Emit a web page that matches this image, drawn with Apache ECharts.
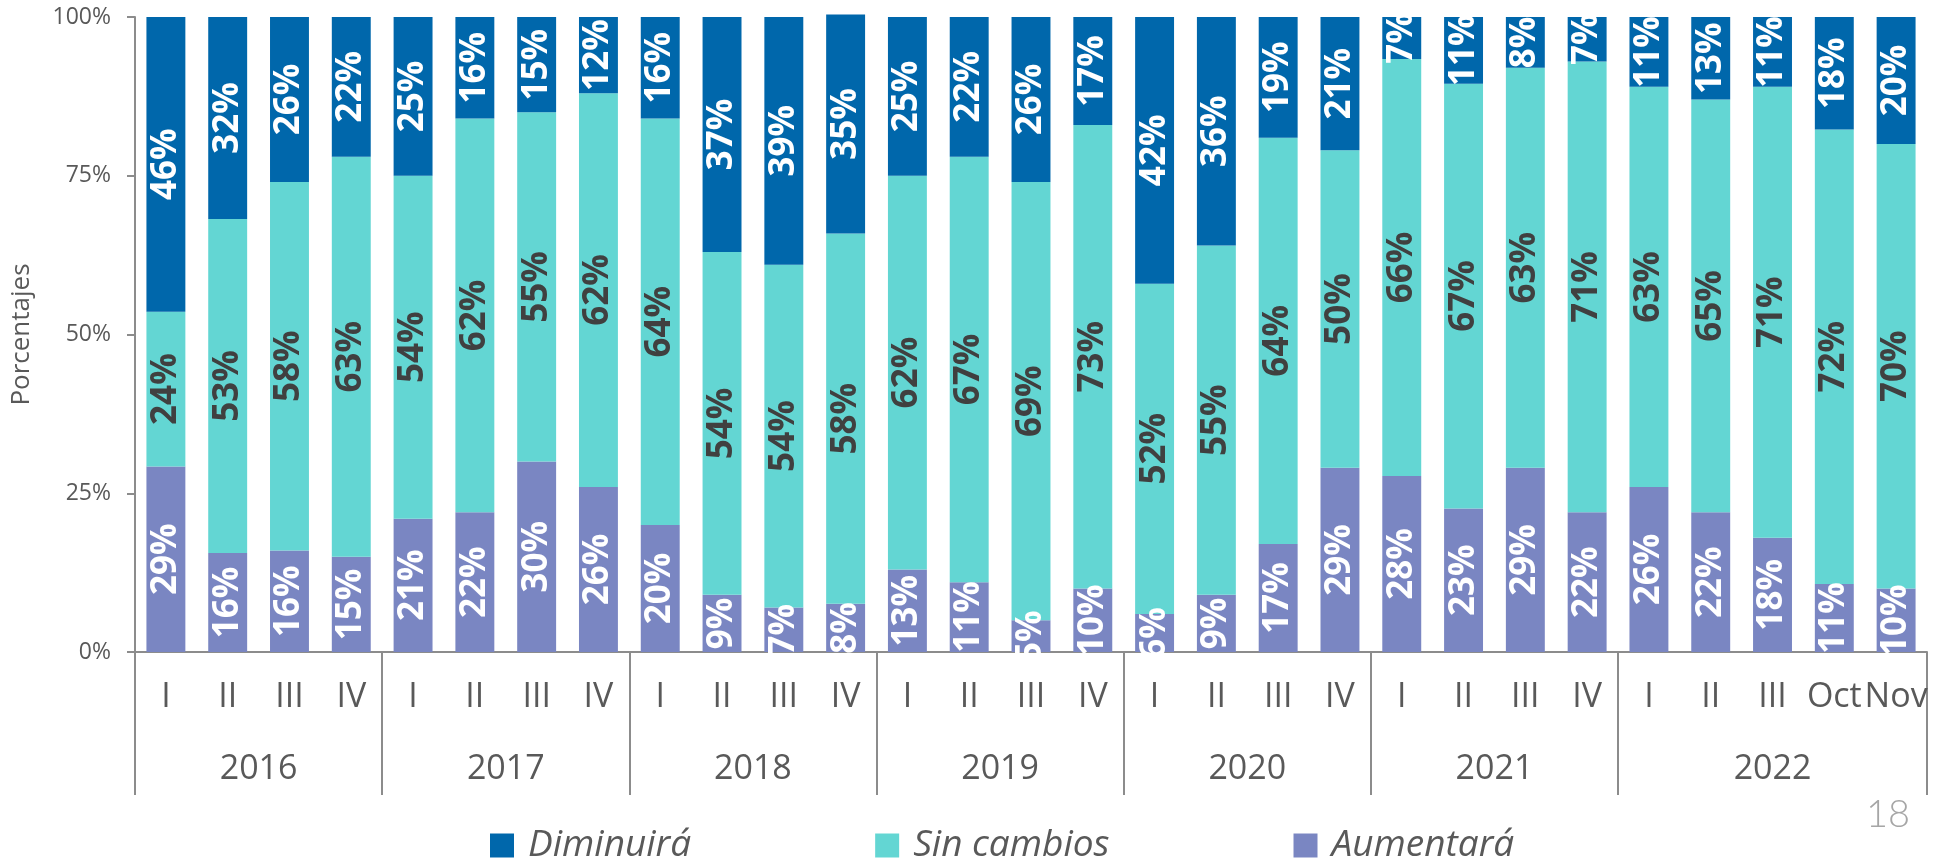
<!DOCTYPE html>
<html><head><meta charset="utf-8">
<script src="https://cdn.jsdelivr.net/npm/echarts@6/dist/echarts.min.js"></script>
<style>html,body{margin:0;padding:0;background:#fff}#c{width:1939px;height:862px}</style>
</head><body><div id="c"></div><script>
const quarters = ['I','II','III','IV','I','II','III','IV','I','II','III','IV','I','II','III','IV','I','II','III','IV','I','II','III','IV','I','II','III','Oct','Nov'];
const years = ['2016','2017','2018','2019','2020','2021','2022'];
const yearSizes = [4,4,4,4,4,4,5];
const aumentara  = [29.2,15.6,16,15, 21,22,30,26, 20,9,7,7.6, 13,11,5,10, 6,9,17,29, 27.7,22.6,29,22, 26,22,18,10.7,10];
const sinCambios = [24.4,52.6,58,63, 54,62,55,62, 64,54,54,58.3, 62,67,69,73, 52,55,64,50, 65.7,66.9,63,71, 63,65,71,71.6,70];
const diminuira  = [46.4,31.8,26,22, 25,16,15,12, 16,37,39,34.5, 25,22,26,17, 42,36,19,21, 6.6,10.5,8,7, 11,13,11,17.7,20];
const seriesNames = ['Diminuirá','Sin cambios','Aumentará'];
const yMin = 0, yMax = 100, yStep = 25;

// year boundaries and centres derived from group sizes
const boundaries = [];
const centres = {};
let acc = 0;
yearSizes.forEach((n, i) => { boundaries.push(acc); centres[String(acc + n / 2)] = years[i]; acc += n; });
const total = acc;

const FONT = "'Open Sans', 'Noto Sans', sans-serif";
const AX = '#8c8c8c';
const TXT = '#595959';

const chart = echarts.init(document.getElementById('c'), null, {renderer: 'canvas'});
function lbl(color) {
  return {show: true, position: 'inside', rotate: 90, color: color, fontFamily: FONT, fontWeight: 'bold', fontSize: 35,
    formatter: p => Math.round(p.value) + '%'};
}
chart.setOption({
  animation: false,
  backgroundColor: '#ffffff',
  grid: {left: 135, right: 12, top: 17, bottom: 210, containLabel: false},
  legend: {
    data: seriesNames, left: 485, top: 822, itemWidth: 24, itemHeight: 24, itemGap: 184, icon: 'rect',
    textStyle: {fontFamily: FONT, fontStyle: 'italic', fontSize: 37, color: TXT, padding: [0, 0, 0, 9]}
  },
  xAxis: [
    {
      type: 'category', data: quarters, position: 'bottom',
      axisLine: {show: true, lineStyle: {color: AX, width: 2}},
      axisTick: {show: true, length: 143, lineStyle: {color: AX, width: 2},
        interval: (idx) => boundaries.indexOf(idx) >= 0},
      axisLabel: {interval: 0, margin: 28, fontFamily: FONT, fontSize: 34, color: TXT}
    },
    {
      type: 'value', min: 0, max: total, interval: 0.5, position: 'bottom',
      axisLine: {show: false}, axisTick: {show: false}, splitLine: {show: false},
      axisLabel: {margin: 100, fontFamily: FONT, fontSize: 34, color: TXT, showMinLabel: true, showMaxLabel: true,
        formatter: v => centres[String(v)] || ''}
    }
  ],
  yAxis: {
    type: 'value', min: yMin, max: yMax, interval: yStep,
    name: 'Porcentajes', nameLocation: 'middle', nameRotate: 90, nameGap: 100,
    nameTextStyle: {fontFamily: FONT, fontSize: 26, color: TXT},
    axisLine: {show: true, lineStyle: {color: AX, width: 2}},
    axisTick: {show: true, length: 8, lineStyle: {color: AX, width: 2}},
    splitLine: {show: false},
    axisLabel: {margin: 24, fontFamily: FONT, fontSize: 23, color: TXT, formatter: '{value}%'}
  },
  series: [
    {name: 'Aumentará', type: 'bar', stack: 's', data: aumentara, barCategoryGap: '37%', clip: false,
      itemStyle: {color: '#7a86c2'}, label: lbl('#ffffff')},
    {name: 'Sin cambios', type: 'bar', stack: 's', data: sinCambios, clip: false,
      itemStyle: {color: '#63d6d3'}, label: lbl('#404040')},
    {name: 'Diminuirá', type: 'bar', stack: 's', data: diminuira, clip: false,
      itemStyle: {color: '#0067ab'}, label: lbl('#ffffff')}
  ],
  graphic: [{type: 'text', left: 1866, top: 796,
    style: {text: '18', fontFamily: "'Lato', 'Open Sans', sans-serif", fontWeight: 300, fontSize: 38, fill: '#a6a6a6'}}]
});
</script></body></html>
